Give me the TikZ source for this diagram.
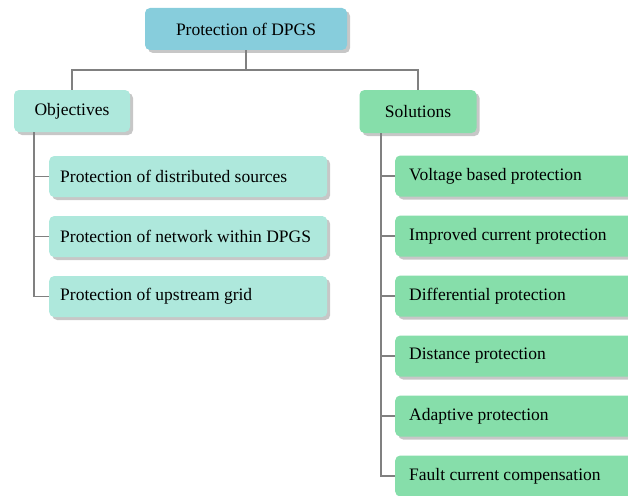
\documentclass[tikz,border=0pt]{standalone}
\usepackage{fontspec}
\setmainfont{Liberation Serif}
\usetikzlibrary{shadows}
\definecolor{topc}{RGB}{135,205,220}
\definecolor{objc}{RGB}{174,232,220}
\definecolor{solc}{RGB}{134,222,170}
\definecolor{linec}{RGB}{128,128,128}
\tikzset{
  x=1pt, y=-1pt,
  boxbase/.style={rounded corners=5pt, draw=none, inner ysep=0pt,
    font=\fontsize{17.5}{21}\selectfont,
    drop shadow={shadow xshift=3pt, shadow yshift=-3pt, fill=black!22, opacity=1}},
  topbox/.style={boxbase, fill=topc, minimum width=202pt, minimum height=42pt},
  objbox/.style={boxbase, fill=objc, minimum width=116pt, minimum height=42pt},
  solbox/.style={boxbase, fill=solc, minimum width=117pt, minimum height=43pt},
  ochild/.style={boxbase, fill=objc, anchor=west, minimum height=41pt, inner xsep=11pt,
    execute at begin node={\hbox to 256pt\bgroup}, execute at end node={\hfil\egroup}},
  schild/.style={boxbase, fill=solc, anchor=west, minimum height=41pt, inner xsep=14pt,
    execute at begin node={\hbox to 220pt\bgroup}, execute at end node={\hfil\egroup}},
  conn/.style={draw=linec, line width=1.6pt}
}
\begin{document}
\begin{tikzpicture}
\useasboundingbox (0,0) rectangle (628,495);
\clip (0,0) rectangle (628,495);
\node[topbox] (top) at (246,29) {Protection of DPGS};
\node[objbox] (obj) at (72,111) {Objectives};
\node[solbox] (sol) at (418,111.5) {Solutions};

\node[ochild] (o1) at (49,176.5) {Protection of distributed sources};
\node[ochild] (o2) at (49,236.5) {Protection of network within DPGS};
\node[ochild] (o3) at (49,296.5) {Protection of upstream grid};

\node[schild] (s1) at (395,176) {Voltage based protection};
\node[schild] (s2) at (395,236) {Improved current protection};
\node[schild] (s3) at (395,296) {Differential protection};
\node[schild] (s4) at (395,356) {Distance protection};
\node[schild] (s5) at (395,416) {Adaptive protection};
\node[schild] (s6) at (395,476) {Fault current compensation};

\coordinate (bus) at (246,70);
\draw[conn] (top.south) -- (bus);
\draw[conn] (bus) -| (obj.north);
\draw[conn] (bus) -| (sol.north);

\coordinate (ol) at (34,132);
\draw[conn] (ol) |- (o3.west);
\draw[conn] (ol |- o1.west) -- (o1.west);
\draw[conn] (ol |- o2.west) -- (o2.west);

\coordinate (sl) at (381,133);
\draw[conn] (sl) |- (s6.west);
\draw[conn] (sl |- s1.west) -- (s1.west);
\draw[conn] (sl |- s2.west) -- (s2.west);
\draw[conn] (sl |- s3.west) -- (s3.west);
\draw[conn] (sl |- s4.west) -- (s4.west);
\draw[conn] (sl |- s5.west) -- (s5.west);
\end{tikzpicture}
\end{document}
